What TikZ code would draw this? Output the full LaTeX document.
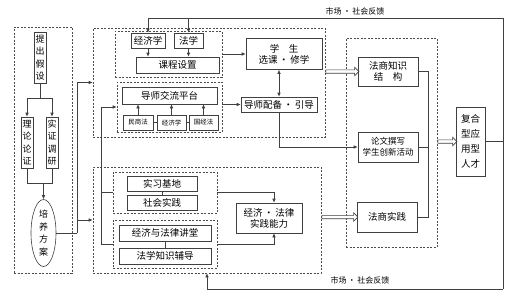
\documentclass[tikz,border=0pt]{standalone}
\usepackage{fontspec}
\setmainfont{Noto Sans CJK SC}
\usetikzlibrary{arrows.meta,shapes.geometric,shapes.arrows}

\begin{document}
\begin{tikzpicture}[
  x=1pt, y=-1pt,
  font=\fontsize{9.5}{11}\selectfont,
  >={Latex[length=4pt,width=3.5pt]},
  every node/.style={line width=0.6pt},
  box/.style={draw=black!75, fill=white, align=center, inner sep=0pt},
  vbox/.style={box, font=\fontsize{9}{12.5}\selectfont},
  smallbox/.style={box, font=\fontsize{6.5}{8}\selectfont},
  group/.style={draw=black!70, dash pattern=on 2pt off 1.5pt, inner sep=0pt},
  lbl/.style={font=\fontsize{8}{9}\selectfont, inner sep=0pt},
  link/.style={draw=black!75, line width=0.6pt},
  arrow/.style={link, ->},
  hollow/.style={single arrow, draw=black!75, fill=white, single arrow head extend=2.5pt, single arrow tip angle=90, inner sep=1.4pt}
]
\useasboundingbox (0,0) rectangle (516,293);

% dashed groups
\node[group, minimum width=58pt, minimum height=246pt] (left) at (43,150) {};
\node[group, minimum width=232pt, minimum height=109pt] (upper) at (209,82.5) {};
\node[group, minimum width=228pt, minimum height=106pt] (lower) at (207,220) {};
\node[group, minimum width=107pt, minimum height=46pt] (cgroup) at (168.5,54) {};
\node[group, minimum width=105pt, minimum height=50pt] (pgroup) at (169.5,107) {};
\node[group, minimum width=104pt, minimum height=41pt] (prgroup) at (165,192.5) {};
\node[group, minimum width=104pt, minimum height=48pt] (lgroup) at (165,244) {};
\node[group, minimum width=91pt, minimum height=209pt] (rgroup) at (391.5,142.5) {};

% left column
\node[vbox, minimum width=12pt, minimum height=51pt] (hyp) at (40,57.5) {提\\出\\假\\设};
\node[vbox, minimum width=12pt, minimum height=51pt] (theo) at (27,142.5) {理\\论\\论\\证};
\node[vbox, minimum width=12pt, minimum height=51pt] (emp) at (52,142.5) {实\\证\\调\\研};
\node[vbox, ellipse, minimum width=25pt, minimum height=67pt] (plan) at (43.5,233) {培\\养\\方\\案};

% upper block
\node[box, minimum width=34pt, minimum height=15pt] (econ) at (148,40.5) {经济学};
\node[box, minimum width=29pt, minimum height=15pt] (law) at (188.5,40.5) {法学};
\node[box, minimum width=83pt, minimum height=16pt] (course) at (177.5,65) {课程设置};
\node[box, minimum width=76pt, minimum height=31pt] (stu) at (284,54) {学　生\\选课\,•\,修学};
\node[box, minimum width=95pt, minimum height=17pt] (plat) at (169.5,95.5) {导师交流平台};
\node[smallbox, minimum width=30pt, minimum height=15pt] (civil) at (138,122.5) {民商法};
\node[smallbox, minimum width=29pt, minimum height=15pt] (econb) at (171.5,122.5) {经济学};
\node[smallbox, minimum width=29pt, minimum height=15pt] (intl) at (203.5,122.5) {国经法};
\node[box, minimum width=76pt, minimum height=15pt] (tutor) at (279,104.5) {导师配备\,•\,引导};

% lower block
\node[box, minimum width=70pt, minimum height=15pt] (intern) at (162,183.5) {实习基地};
\node[box, minimum width=70pt, minimum height=15pt] (social) at (162,202.5) {社会实践};
\node[box, minimum width=92pt, minimum height=16pt] (lecture) at (165,233) {经济与法律讲堂};
\node[box, minimum width=92pt, minimum height=16pt] (coach) at (165,256) {法学知识辅导};
\node[box, minimum width=66pt, minimum height=30pt] (ability) at (269,218) {经济\,•\,法律\\实践能力};

% right block
\node[box, minimum width=60pt, minimum height=29pt] (know) at (388,71.5) {法商知识\\结　构};
\node[box, minimum width=60pt, minimum height=30pt, font=\fontsize{8.5}{11}\selectfont] (thesis) at (388,147) {论文撰写\\学生创新活动};
\node[box, minimum width=60pt, minimum height=30pt] (fsp) at (387,217) {法商实践};
\node[vbox, minimum width=29pt, minimum height=69pt, font=\fontsize{9.5}{15}\selectfont] (talent) at (470.5,141.5) {复合\\型应\\用型\\人才};

% feedback labels
\node[lbl] (fbup) at (355,11) {市场\,•\,社会反馈};
\node[lbl] (fbdown) at (360,280) {市场\,•\,社会反馈};

% left column links
\coordinate (split) at (40,98);
\coordinate (merge) at (43.5,183);
\draw[link] (hyp.south) -- (split);
\draw[arrow] (split) -| (theo.north);
\draw[arrow] (split) -| (emp.north);
\draw[link] (theo.south) |- (merge);
\draw[link] (emp.south) |- (merge);
\draw[arrow] (merge) -- (plan.north);
\coordinate (feed) at (77,233);
\draw[link] (plan.east) -- (feed);
\draw[arrow] (feed) |- (upper.west);
\draw[arrow] (feed |- lower.west) -- (lower.west);

% upper links
\draw[arrow] (econ.south) -- (econ.south |- course.north);
\draw[arrow] (law.south) -- (law.south |- course.north);
\draw[arrow] (cgroup.east) -- (stu.west);
\draw[link] (civil) -- (econb) -- (intl);
\draw[arrow] (civil.north) -- (civil.north |- plat.south);
\draw[arrow] (econb.north) -- (econb.north |- plat.south);
\draw[arrow] (intl.north) -- (intl.north |- plat.south);
\draw[arrow] (tutor.west -| pgroup.east) -- (tutor.west);
\draw[link, <->] (tutor.north) -- (tutor.north |- stu.south);
\draw[arrow] (tutor.south) |- (thesis.west);

% distribution line
\coordinate (dtop) at (101,107);
\draw[arrow] (dtop) -- (pgroup.west);
\draw[link] (dtop) |- (lgroup.west);
\draw[link] (prgroup.west -| dtop) -- (prgroup.west);

% lower links
\draw[link] (intern) -- (social);
\draw[link] (lecture) -- (coach);
\draw[arrow] (prgroup.east) -| ([xshift=5pt]ability.north);
\draw[arrow] (lgroup.east) -| ([xshift=5pt]ability.south);

% right links
\coordinate (rbar) at (428,71.5);
\draw[link] (know.east) -- (rbar) -- (rbar |- fsp.east) -- (fsp.east);
\draw[link] (thesis.east) -- (thesis.east -| rbar);
\path (know.west -| upper.east) -- (know.west) node[hollow, midway, minimum height=33pt] (ha1) {};
\path (fsp.west -| lower.east) -- (fsp.west) node[hollow, midway, minimum height=36pt] (ha2) {};
\path (talent.west -| rgroup.east) -- (talent.west) node[hollow, midway, minimum height=19pt] (ha3) {};

% feedback loop
\coordinate (fbtop) at (503,18);
\coordinate (fbbot) at (503,289);
\draw[link] (talent.east) -- (talent.east -| fbtop);
\draw[link] (fbbot) -- (fbtop) -- (fbtop -| econ.north);
\draw[arrow] (fbtop -| econ.north) -- (econ.north);
\draw[arrow] (fbtop -| law.north) -- (law.north);
\draw[arrow] (fbbot) -| (lower.south);
\end{tikzpicture}
\end{document}
